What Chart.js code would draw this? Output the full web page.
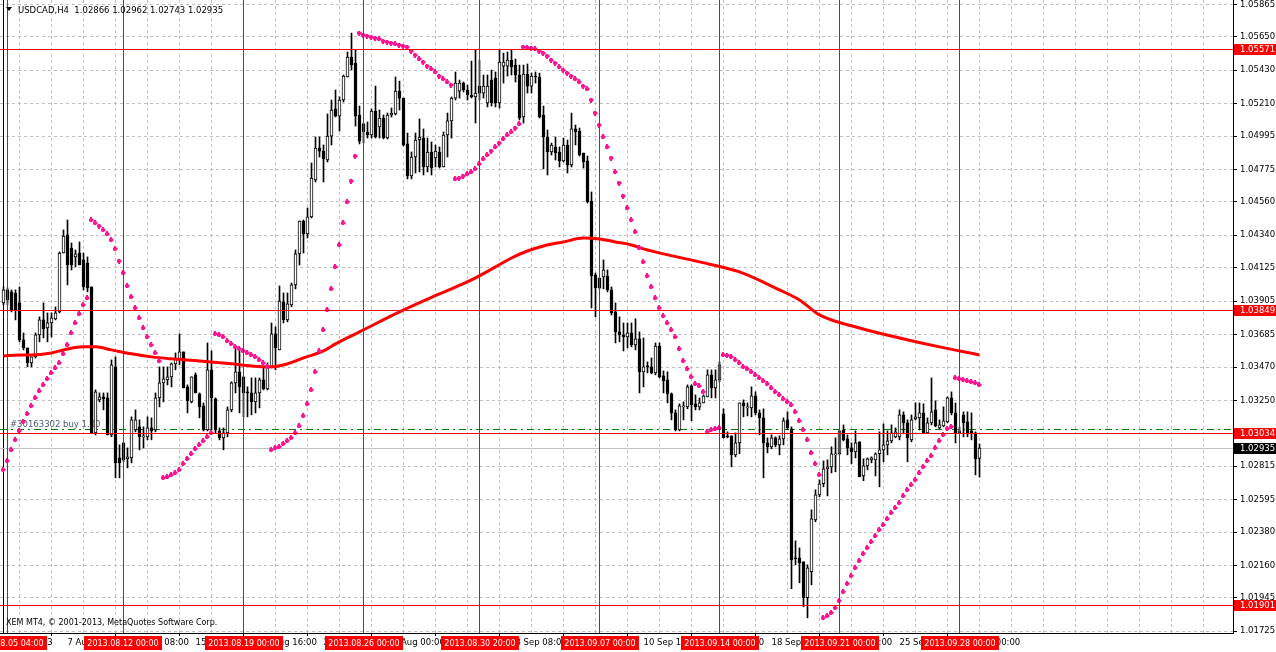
<!DOCTYPE html>
<html>
<head>
<meta charset="utf-8">
<title>USDCAD,H4</title>
<script src="https://cdn.jsdelivr.net/npm/chart.js@4.4.0/dist/chart.umd.min.js"></script>
<style>
  html, body { margin:0; padding:0; background:#fff; }
  #wrap { width:1276px; height:652px; }
</style>
</head>
<body>
<div id="wrap"><canvas id="chart" width="1276" height="652"></canvas></div>
<script>
// USDCAD H4 — candles, parabolic SAR, moving average, MT4 style objects

// candles [open, high, low, close], one per H4 bar, index 0 = 2013.08.05 00:00
const candles = [
  [1.03893,1.03999,1.03880,1.03979],[1.03979,1.03992,1.03880,1.03913],[1.03966,1.03979,1.03834,1.03847],[1.03959,1.03979,1.03781,1.03847],
  [1.03893,1.03999,1.03636,1.03649],[1.03649,1.03695,1.03583,1.03596],[1.03596,1.03596,1.03471,1.03497],[1.03497,1.03537,1.03471,1.03537],
  [1.03537,1.03695,1.03530,1.03682],[1.03682,1.03801,1.03636,1.03781],[1.03781,1.03893,1.03662,1.03722],[1.03728,1.03827,1.03636,1.03761],
  [1.03761,1.03827,1.03669,1.03794],[1.03788,1.03867,1.03781,1.03827],[1.03834,1.04230,1.03827,1.04223],[1.04223,1.04375,1.04223,1.04335],
  [1.04342,1.04441,1.04012,1.04144],[1.04256,1.04289,1.04111,1.04144],[1.04197,1.04243,1.04131,1.04217],[1.04223,1.04296,1.04144,1.04144],
  [1.04177,1.04223,1.03979,1.03999],[1.04157,1.04197,1.03966,1.03992],[1.03999,1.03999,1.03035,1.03035],[1.03035,1.03319,1.03022,1.03306],
  [1.03253,1.03299,1.03240,1.03273],[1.03273,1.03299,1.03187,1.03260],[1.03266,1.03299,1.03022,1.03022],[1.03022,1.03517,1.03009,1.03484],
  [1.03471,1.03537,1.02738,1.02837],[1.02870,1.02956,1.02738,1.02837],[1.02969,1.02969,1.02844,1.02857],[1.02864,1.02936,1.02804,1.02877],
  [1.02870,1.03141,1.02837,1.03121],[1.03055,1.03187,1.03042,1.03121],[1.03075,1.03121,1.02923,1.03009],[1.03009,1.03075,1.02936,1.03016],
  [1.03009,1.03141,1.02989,1.03068],[1.03068,1.03134,1.02989,1.03048],[1.03055,1.03299,1.03042,1.03266],[1.03266,1.03471,1.03207,1.03365],
  [1.03365,1.03471,1.03240,1.03392],[1.03385,1.03471,1.03352,1.03405],[1.03405,1.03497,1.03339,1.03491],[1.03491,1.03563,1.03451,1.03524],
  [1.03517,1.03689,1.03484,1.03570],[1.03570,1.03570,1.03332,1.03332],[1.03339,1.03352,1.03167,1.03247],[1.03240,1.03405,1.03233,1.03405],
  [1.03418,1.03431,1.03299,1.03299],[1.03293,1.03299,1.03134,1.03207],[1.03213,1.03233,1.03048,1.03055],[1.03055,1.03629,1.03048,1.03451],
  [1.03451,1.03576,1.03055,1.03266],[1.03260,1.03266,1.03035,1.03055],[1.03048,1.03068,1.02989,1.03002],[1.03002,1.03068,1.02923,1.03035],
  [1.03035,1.03207,1.03009,1.03187],[1.03187,1.03372,1.03174,1.03365],[1.03365,1.03596,1.03299,1.03438],[1.03438,1.03583,1.03167,1.03339],
  [1.03405,1.03405,1.03141,1.03299],[1.03306,1.03339,1.03141,1.03299],[1.03299,1.03398,1.03154,1.03240],[1.03240,1.03398,1.03167,1.03299],
  [1.03299,1.03398,1.03200,1.03385],[1.03385,1.03471,1.03319,1.03326],[1.03326,1.03497,1.03319,1.03471],[1.03471,1.03761,1.03464,1.03689],
  [1.03689,1.03735,1.03451,1.03596],[1.03583,1.04005,1.03583,1.03906],[1.03900,1.03959,1.03761,1.03781],[1.03781,1.03959,1.03768,1.03887],
  [1.03880,1.04025,1.03867,1.04012],[1.04012,1.04243,1.03986,1.04217],[1.04217,1.04434,1.04144,1.04434],[1.04434,1.04441,1.04223,1.04349],
  [1.04349,1.04520,1.04322,1.04461],[1.04461,1.04817,1.04454,1.04718],[1.04705,1.04989,1.04692,1.04916],[1.04916,1.04989,1.04857,1.04896],
  [1.04896,1.04936,1.04692,1.04844],[1.04837,1.05141,1.04824,1.04995],[1.04995,1.05233,1.04936,1.05167],[1.05174,1.05299,1.05121,1.05127],
  [1.05127,1.05253,1.05028,1.05233],[1.05233,1.05398,1.05220,1.05391],[1.05385,1.05550,1.05385,1.05517],[1.05517,1.05675,1.05431,1.05464],
  [1.05477,1.05563,1.05061,1.05127],[1.05134,1.05193,1.04943,1.04962],[1.05075,1.05081,1.04949,1.05022],[1.05022,1.05088,1.04982,1.05002],
  [1.05002,1.05174,1.04982,1.05160],[1.05160,1.05325,1.04982,1.04989],[1.05055,1.05167,1.04982,1.05114],[1.05114,1.05134,1.04976,1.04982],
  [1.04982,1.05147,1.04976,1.05134],[1.05134,1.05180,1.05121,1.05147],[1.05141,1.05385,1.05134,1.05292],[1.05292,1.05358,1.05167,1.05246],
  [1.05246,1.05246,1.04929,1.04936],[1.04943,1.05015,1.04712,1.04731],[1.04731,1.04890,1.04712,1.04857],[1.04857,1.05015,1.04751,1.04969],
  [1.04969,1.05108,1.04758,1.04989],[1.04982,1.05042,1.04738,1.04791],[1.04791,1.04982,1.04758,1.04890],[1.04890,1.04956,1.04738,1.04784],
  [1.04850,1.04936,1.04791,1.04896],[1.04890,1.04923,1.04784,1.04791],[1.04791,1.05022,1.04791,1.05002],[1.05002,1.05147,1.04857,1.05095],
  [1.05095,1.05253,1.04982,1.05246],[1.05246,1.05418,1.05233,1.05345],[1.05292,1.05365,1.05246,1.05345],[1.05345,1.05352,1.05286,1.05299],
  [1.05299,1.05332,1.05233,1.05266],[1.05266,1.05490,1.05246,1.05253],[1.05253,1.05563,1.05081,1.05279],[1.05325,1.05497,1.05233,1.05279],
  [1.05279,1.05398,1.05246,1.05325],[1.05213,1.05398,1.05187,1.05325],[1.05365,1.05431,1.05193,1.05213],[1.05378,1.05418,1.05187,1.05213],
  [1.05213,1.05563,1.05180,1.05484],[1.05457,1.05543,1.05345,1.05484],[1.05457,1.05550,1.05391,1.05497],[1.05497,1.05563,1.05398,1.05451],
  [1.05464,1.05504,1.05352,1.05398],[1.05398,1.05464,1.05101,1.05114],[1.05121,1.05464,1.05081,1.05405],[1.05405,1.05471,1.05279,1.05325],
  [1.05325,1.05411,1.05279,1.05391],[1.05391,1.05418,1.05345,1.05385],[1.05385,1.05411,1.05114,1.05121],[1.05134,1.05193,1.04778,1.04989],
  [1.04989,1.05035,1.04738,1.04890],[1.04890,1.04949,1.04870,1.04936],[1.04923,1.04989,1.04837,1.04883],[1.04890,1.04923,1.04791,1.04831],
  [1.04831,1.04982,1.04824,1.04936],[1.04936,1.04969,1.04751,1.04804],[1.04804,1.05147,1.04791,1.05042],[1.05042,1.05068,1.04936,1.05022],
  [1.05028,1.05048,1.04863,1.04870],[1.04883,1.04883,1.04784,1.04824],[1.04831,1.04863,1.04553,1.04560],[1.04566,1.04626,1.03860,1.04071],
  [1.04078,1.04091,1.03801,1.03992],[1.04058,1.04058,1.03986,1.03992],[1.04065,1.04177,1.03986,1.04111],[1.04071,1.04111,1.03966,1.03979],
  [1.03979,1.03999,1.03814,1.03827],[1.03834,1.03893,1.03629,1.03702],[1.03702,1.03801,1.03636,1.03682],[1.03682,1.03761,1.03576,1.03669],
  [1.03669,1.03761,1.03596,1.03695],[1.03695,1.03761,1.03603,1.03616],[1.03616,1.03788,1.03583,1.03656],[1.03656,1.03702,1.03299,1.03438],
  [1.03438,1.03662,1.03339,1.03471],[1.03477,1.03504,1.03431,1.03471],[1.03471,1.03530,1.03425,1.03431],[1.03431,1.03629,1.03418,1.03609],
  [1.03609,1.03629,1.03398,1.03405],[1.03411,1.03444,1.03299,1.03378],[1.03385,1.03438,1.03233,1.03293],[1.03293,1.03299,1.03121,1.03167],
  [1.03167,1.03187,1.03048,1.03055],[1.03055,1.03227,1.03048,1.03213],[1.03207,1.03240,1.03121,1.03213],[1.03207,1.03352,1.03194,1.03339],
  [1.03345,1.03352,1.03115,1.03220],[1.03227,1.03286,1.03187,1.03207],[1.03207,1.03266,1.03187,1.03233],[1.03233,1.03286,1.03233,1.03279],
  [1.03273,1.03451,1.03273,1.03418],[1.03418,1.03451,1.03266,1.03332],[1.03332,1.03451,1.03266,1.03385],[1.03385,1.03504,1.03372,1.03484],
  [1.03161,1.03194,1.03002,1.03002],[1.03016,1.03042,1.03002,1.03009],[1.03016,1.03016,1.02811,1.02890],[1.02890,1.03035,1.02877,1.02969],
  [1.02969,1.03233,1.02897,1.03233],[1.03233,1.03253,1.03141,1.03213],[1.03200,1.03233,1.03147,1.03207],[1.03200,1.03339,1.03141,1.03279],
  [1.03279,1.03306,1.03154,1.03167],[1.03167,1.03187,1.03022,1.03134],[1.03134,1.03194,1.02738,1.02969],[1.02969,1.03002,1.02903,1.02943],
  [1.02943,1.03022,1.02930,1.03002],[1.03002,1.03009,1.02943,1.02956],[1.02956,1.03016,1.02890,1.02996],[1.02996,1.03134,1.02956,1.03115],
  [1.03121,1.03174,1.03055,1.03068],[1.03062,1.03075,1.02006,1.02197],[1.02210,1.02322,1.02164,1.02204],[1.02210,1.02276,1.02045,1.02177],
  [1.02184,1.02184,1.01887,1.01947],[1.01947,1.02164,1.01814,1.02144],[1.02118,1.02527,1.02032,1.02468],[1.02461,1.02659,1.02448,1.02626],
  [1.02626,1.02725,1.02613,1.02699],[1.02699,1.02850,1.02679,1.02798],[1.02798,1.02857,1.02619,1.02811],[1.02811,1.02943,1.02771,1.02897],
  [1.02890,1.03002,1.02778,1.02897],[1.02897,1.03048,1.02890,1.03048],[1.03055,1.03088,1.02982,1.02989],[1.02996,1.03022,1.02890,1.02936],
  [1.02936,1.02969,1.02831,1.02910],[1.02910,1.03048,1.02870,1.02969],[1.02976,1.02976,1.02745,1.02745],[1.02751,1.02864,1.02719,1.02817],
  [1.02817,1.02870,1.02791,1.02864],[1.02857,1.02877,1.02837,1.02870],[1.02857,1.02903,1.02751,1.02897],[1.02897,1.03042,1.02679,1.02923],
  [1.02923,1.03095,1.02844,1.02956],[1.02956,1.03048,1.02890,1.02982],[1.02982,1.03088,1.02969,1.03035],[1.03009,1.03068,1.03002,1.03042],
  [1.03009,1.03187,1.02989,1.03154],[1.03154,1.03174,1.03029,1.03101],[1.03101,1.03121,1.02844,1.03002],[1.02989,1.03154,1.02976,1.03121],
  [1.03128,1.03233,1.03121,1.03141],[1.03134,1.03233,1.03055,1.03167],[1.03167,1.03227,1.03035,1.03035],[1.03035,1.03134,1.03035,1.03101],
  [1.03101,1.03398,1.03088,1.03174],[1.03187,1.03247,1.03075,1.03081],[1.03068,1.03121,1.03062,1.03088],[1.03081,1.03207,1.03075,1.03115],
  [1.03108,1.03273,1.03101,1.03266],[1.03266,1.03306,1.03154,1.03167],[1.03167,1.03233,1.02969,1.03035],[1.03035,1.03075,1.03035,1.03048],
  [1.03154,1.03174,1.03009,1.03101],[1.03108,1.03174,1.03009,1.03035],[1.03048,1.03167,1.02989,1.03035],[1.03035,1.03042,1.02758,1.02864],
  [1.02866,1.02962,1.02743,1.02935]
];

// parabolic SAR, one value per bar
const sar = [
  1.02791,1.02850,1.02923,1.02989,1.03048,1.03108,1.03161,1.03213,1.03266,1.03312,
  1.03352,1.03392,1.03431,1.03464,1.03497,1.03557,1.03616,1.03695,1.03761,1.03821,
  1.03880,1.03926,1.04441,1.04421,1.04401,1.04375,1.04349,1.04309,1.04250,1.04170,
  1.04091,1.04005,1.03933,1.03860,1.03794,1.03728,1.03669,1.03616,1.03563,1.03510,
  1.02738,1.02745,1.02758,1.02771,1.02791,1.02831,1.02864,1.02897,1.02930,1.02956,
  1.02982,1.03009,1.03035,1.03689,1.03682,1.03669,1.03642,1.03623,1.03603,1.03590,
  1.03576,1.03563,1.03550,1.03537,1.03517,1.03497,1.03471,1.02923,1.02936,1.02943,
  1.02963,1.02982,1.03002,1.03035,1.03081,1.03147,1.03227,1.03319,1.03438,1.03576,
  1.03715,1.03847,1.03986,1.04131,1.04276,1.04421,1.04560,1.04698,1.04863,1.05675,
  1.05662,1.05655,1.05649,1.05642,1.05636,1.05622,1.05616,1.05609,1.05603,1.05596,
  1.05589,1.05583,1.05556,1.05530,1.05504,1.05484,1.05457,1.05438,1.05418,1.05391,
  1.05372,1.05352,1.05332,1.04712,1.04718,1.04731,1.04745,1.04758,1.04778,1.04811,
  1.04844,1.04870,1.04896,1.04923,1.04949,1.04976,1.05002,1.05022,1.05048,1.05075,
  1.05583,1.05580,1.05576,1.05570,1.05556,1.05543,1.05523,1.05497,1.05477,1.05451,
  1.05431,1.05411,1.05391,1.05372,1.05352,1.05325,1.05306,1.05233,1.05147,1.05068,
  1.04989,1.04923,1.04850,1.04758,1.04685,1.04599,1.04520,1.04441,1.04362,1.04256,
  1.04164,1.04071,1.03999,1.03926,1.03860,1.03807,1.03761,1.03715,1.03669,1.03590,
  1.03510,1.03458,1.03405,1.03359,1.03345,1.03306,1.03042,1.03055,1.03062,1.03068,
  1.03550,1.03547,1.03537,1.03517,1.03497,1.03471,1.03458,1.03438,1.03418,1.03398,
  1.03378,1.03359,1.03332,1.03306,1.03286,1.03260,1.03240,1.03220,1.03174,1.03114,
  1.03055,1.02989,1.02903,1.02831,1.02758,1.01814,1.01827,1.01847,1.01880,1.01926,
  1.01986,1.02039,1.02091,1.02144,1.02190,1.02237,1.02276,1.02316,1.02355,1.02395,
  1.02428,1.02468,1.02507,1.02540,1.02573,1.02619,1.02659,1.02692,1.02725,1.02771,
  1.02811,1.02850,1.02883,1.02936,1.02982,1.03022,1.03062,1.03075,1.03398,1.03392,
  1.03385,1.03378,1.03372,1.03365,1.03352
];

// moving average, read at these bar indexes
const maIdx = [0,4,7,12,16,20,23,27,32,37,42,49,57,62,67,71,75,80,83,89,99,109,117,123,127,131,135,140,145,149,153,157,160,165,174,184,194,199,204,214,224,234,244];
const maVal = [1.03543,1.03550,1.03550,1.03563,1.03589,1.03603,1.03603,1.03583,1.03557,1.03537,1.03524,1.03510,1.03491,1.03477,1.03471,1.03491,1.03530,1.03576,1.03623,1.03702,1.03834,1.03953,1.04045,1.04131,1.04190,1.04236,1.04269,1.04296,1.04322,1.04316,1.04296,1.04276,1.04250,1.04217,1.04164,1.04098,1.03979,1.03913,1.03814,1.03728,1.03662,1.03603,1.03550];

// price axis labels
const yTicks = [1.05865,1.05650,1.05430,1.05210,1.04995,1.04775,1.04560,1.04340,1.04125,1.03905,1.03685,1.03470,1.03250,1.03030,1.02815,1.02595,1.02380,1.02160,1.01945,1.01725];

// time axis labels
const xTickIdx = [0,16,32,48,64,80,96,112,128,144,160,176,192,208,224,240];
const xTickText = ['5 Aug 2013','7 Aug 16:00','12 Aug 08:00','15 Aug 00:00','19 Aug 16:00','22 Aug 08:00','27 Aug 00:00','29 Aug 16:00',
  '3 Sep 08:00','6 Sep 00:00','10 Sep 16:00','13 Sep 08:00','18 Sep 00:00','20 Sep 16:00','25 Sep 08:00','30 Sep 00:00'];

// vertical line objects
const vLineIdx = [1,30,60,90,119,149,179,209,239];
const vLineText = ['2013.08.05 04:00','2013.08.12 00:00','2013.08.19 00:00','2013.08.26 00:00','2013.08.30 20:00',
  '2013.09.07 00:00','2013.09.14 00:00','2013.09.21 00:00','2013.09.28 00:00'];

// horizontal line objects, bid and open order
const hLevels = [1.05571,1.03849,1.03034,1.01901];
const bidPrice = 1.02935;
const orderPrice = 1.03063;
const orderText = '#30163302 buy 1.00';
const titleText = 'USDCAD,H4  1.02866 1.02962 1.02743 1.02935';
const copyText = 'XEM MT4, © 2001-2013, MetaQuotes Software Corp.';

const FONT = '"DejaVu Sans", sans-serif';
const PLOT_RIGHT = 1233, PLOT_BOTTOM = 633;
const BAR_STEP = 4;                       // px per bar
const xMin = -3.5 / BAR_STEP;
const xMax = xMin + PLOT_RIGHT / BAR_STEP;
const yMax = 1.058934, yMin = 1.017137;

const gridIdx = [];
for (let v = 0; v <= xMax; v += 8) gridIdx.push(v);

function sarGlyph() {
  const c = document.createElement('canvas');
  c.width = 5; c.height = 5;
  const g = c.getContext('2d');
  g.fillStyle = '#FF1493';
  g.fillRect(1, 0, 2, 5);
  g.fillRect(0, 1, 4, 3);
  g.fillRect(4, 2, 1, 1);
  return c;
}

function hline(ctx, x1, x2, y, color, dash) {
  const py = Math.round(y) + 0.5;
  ctx.save();
  ctx.strokeStyle = color; ctx.lineWidth = 1;
  ctx.setLineDash(dash || []);
  ctx.beginPath(); ctx.moveTo(x1, py); ctx.lineTo(x2, py); ctx.stroke();
  ctx.restore();
}

function vline(ctx, x, y1, y2, color) {
  const px = Math.round(x - 0.5) + 0.5;
  ctx.save();
  ctx.strokeStyle = color; ctx.lineWidth = 1;
  ctx.beginPath(); ctx.moveTo(px, y1); ctx.lineTo(px, y2); ctx.stroke();
  ctx.restore();
}

function priceBox(ctx, y, text, bg) {
  const py = Math.round(y);
  ctx.fillStyle = bg;
  ctx.fillRect(PLOT_RIGHT + 1, py - 5, 1276 - PLOT_RIGHT - 1, 11);
  ctx.fillStyle = '#fff';
  ctx.font = '8.5px ' + FONT;
  ctx.textAlign = 'left'; ctx.textBaseline = 'middle';
  ctx.fillText(text, 1240, py + 0.5);
}

const mt4Objects = {
  id: 'mt4Objects',
  beforeDatasetsDraw(chart) {
    const { ctx, chartArea: a, scales: { y } } = chart;
    vline(ctx, 3, a.top, a.bottom, '#000');
    hline(ctx, a.left, a.right, y.getPixelForValue(bidPrice), '#C0C0C0');
    hline(ctx, a.left, a.right, y.getPixelForValue(orderPrice), '#008000', [7, 4, 2, 4]);
    ctx.save();
    ctx.fillStyle = '#4C5A6C';
    ctx.font = '8.5px ' + FONT;
    ctx.textAlign = 'left'; ctx.textBaseline = 'alphabetic';
    ctx.fillText(orderText, 10, Math.round(y.getPixelForValue(orderPrice)) - 2);
    ctx.restore();
  },
  afterDatasetsDraw(chart) {
    const { ctx, chartArea: a, scales: { x, y } } = chart;
    hLevels.forEach(p => hline(ctx, a.left, a.right, y.getPixelForValue(p), '#FF0000'));
    vLineIdx.forEach(i => vline(ctx, x.getPixelForValue(i), a.top, a.bottom, '#FF0000'));
  },
  afterDraw(chart) {
    const { ctx, scales: { x, y } } = chart;
    ctx.save();
    // title
    ctx.fillStyle = '#000';
    ctx.beginPath(); ctx.moveTo(6, 7); ctx.lineTo(12, 7); ctx.lineTo(9, 11); ctx.closePath(); ctx.fill();
    ctx.font = '8.5px ' + FONT;
    ctx.textAlign = 'left'; ctx.textBaseline = 'alphabetic';
    ctx.fillText(titleText, 18, 13);
    ctx.font = '8px ' + FONT;
    ctx.fillText(copyText, 6, 625);
    // price boxes
    hLevels.forEach(p => priceBox(ctx, y.getPixelForValue(p), p.toFixed(5), '#FF0000'));
    priceBox(ctx, y.getPixelForValue(bidPrice), bidPrice.toFixed(5), '#000000');
    // time boxes of the vertical lines
    ctx.font = '8px ' + FONT;
    ctx.textAlign = 'center'; ctx.textBaseline = 'middle';
    vLineIdx.forEach((i, k) => {
      const px = Math.round(x.getPixelForValue(i));
      ctx.fillStyle = '#FF0000';
      ctx.fillRect(px - 39, 636, 78, 14);
      ctx.fillStyle = '#fff';
      ctx.fillText(vLineText[k], px, 643.5);
    });
    ctx.restore();
  }
};

const bull = candles.map(c => c[3] >= c[0]);

new Chart(document.getElementById('chart'), {
  type: 'bar',
  data: {
    datasets: [
      { type: 'line', label: 'SAR', data: sar.map((v, i) => ({ x: i, y: v })), showLine: false,
        pointStyle: sarGlyph(), pointRadius: 2.5, order: 0 },
      { type: 'line', label: 'MA', data: maIdx.map((v, k) => ({ x: v, y: maVal[k] })), borderColor: '#FF0000',
        borderWidth: 3, pointRadius: 0, cubicInterpolationMode: 'monotone', order: 1 },
      { label: 'body', data: candles.map((c, i) => ({ x: i, y: [c[0], c[3]] })),
        backgroundColor: bull.map(b => b ? '#FFFFFF' : '#000000'), borderColor: '#000000', borderWidth: 1,
        borderSkipped: false, barThickness: 3, minBarLength: 1, grouped: false, order: 2 },
      { label: 'wick', data: candles.map((c, i) => ({ x: i, y: [c[2], c[1]] })),
        backgroundColor: '#000000', barThickness: 1, grouped: false, order: 3 }
    ]
  },
  options: {
    responsive: false, animation: false, devicePixelRatio: 1,
    layout: { padding: 0, autoPadding: false },
    plugins: { legend: { display: false }, tooltip: { enabled: false } },
    scales: {
      x: {
        type: 'linear', position: 'bottom', min: xMin, max: xMax, offset: false,
        afterBuildTicks: s => { s.ticks = gridIdx.map(v => ({ value: v })); },
        afterFit: s => { s.height = 652 - PLOT_BOTTOM; s.paddingLeft = 0; s.paddingRight = 0; },
        ticks: { autoSkip: false, maxRotation: 0, minRotation: 0, align: 'start', padding: 2,
          font: { family: FONT, size: 8.5 }, color: '#000',
          callback: v => { const k = xTickIdx.indexOf(v); return k >= 0 ? xTickText[k] : ''; } },
        grid: { color: '#C0C0C0', lineWidth: 1, tickLength: 3, tickBorderDash: [],
          tickColor: c => (c.tick && xTickIdx.includes(c.tick.value)) ? '#000' : 'rgba(0,0,0,0)' },
        border: { display: true, color: '#000', width: 1, dash: [3, 3] }
      },
      y: {
        type: 'linear', position: 'right', min: yMin, max: yMax,
        afterBuildTicks: s => { s.ticks = yTicks.map(v => ({ value: v })); },
        afterFit: s => { s.width = 1276 - PLOT_RIGHT; s.paddingTop = 0; s.paddingBottom = 0; },
        ticks: { autoSkip: false, padding: 3, font: { family: FONT, size: 8.5 }, color: '#000',
          callback: v => v.toFixed(5) },
        grid: { color: '#C0C0C0', lineWidth: 1, tickLength: 4, tickColor: '#000', tickBorderDash: [] },
        border: { display: true, color: '#000', width: 1, dash: [3, 3] }
      }
    }
  },
  plugins: [mt4Objects]
});
</script>
</body>
</html>
